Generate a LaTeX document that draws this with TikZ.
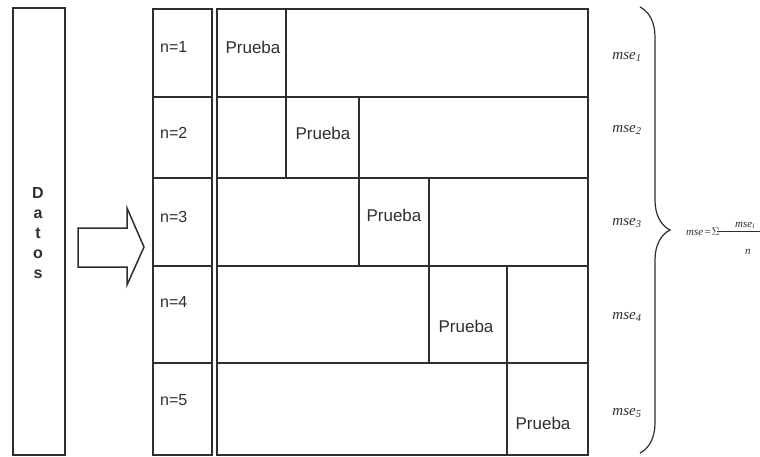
\documentclass[tikz,border=0pt]{standalone}
\usepackage{fontspec}
\setmainfont{Liberation Sans}
\newfontfamily\tms{Liberation Serif}
\usetikzlibrary{decorations.pathreplacing}
\definecolor{ink}{HTML}{2E2E2E}
\tikzset{
  box/.style={draw=ink, line width=1.5pt, inner sep=0pt, outer sep=0pt, anchor=north west},
  lbl/.style={text=ink, inner sep=0pt, font=\fontsize{16}{18}\selectfont},
  prb/.style={text=ink, inner sep=0pt, font=\fontsize{17}{19}\selectfont},
  mse/.style={text=ink, inner sep=0pt, font=\tms\itshape\fontsize{15}{17}\selectfont},
  fml/.style={text=ink, inner sep=0pt, anchor=base west, font=\tms\itshape\fontsize{11}{13}\selectfont},
}
\begin{document}
\begin{tikzpicture}[x=1pt,y=-1pt]
\useasboundingbox (0,0) rectangle (760,457);
% Datos column
\node[box, minimum width=52pt, minimum height=447pt] (datos) at (13,8) {};
\node[text=ink, inner sep=0pt, align=center, font=\bfseries\fontsize{16}{20}\selectfont] (datostxt) at (38,233) {D\\a\\t\\o\\s};
% arrow
\draw[draw=ink, line width=1.5pt, line join=miter] (78,228) -- (127,228) -- (127,208) -- (144,247) -- (127,285) -- (127,267) -- (78,267) -- cycle;
% n column
\foreach \i/\t/\b in {1/9/97, 2/97/178, 3/178/266, 4/266/363, 5/363/455}{
  \pgfmathsetmacro{\h}{\b-\t}
  \node[box, minimum width=59pt, minimum height=\h pt] (n\i) at (153,\t) {};
}
\node[lbl, anchor=west] (n1t) at (160,47) {n=1};
\node[lbl, anchor=west] (n2t) at (160,133) {n=2};
\node[lbl, anchor=west] (n3t) at (160,217) {n=3};
\node[lbl, anchor=west] (n4t) at (160,302) {n=4};
\node[lbl, anchor=west] (n5t) at (160,400) {n=5};
% grid rows
% row 1
\node[box, minimum width=69pt, minimum height=88pt] (r1a) at (217,9) {};
\node[box, minimum width=302pt, minimum height=88pt] (r1b) at (286,9) {};
% row 2
\node[box, minimum width=69pt, minimum height=81pt] (r2a) at (217,97) {};
\node[box, minimum width=73pt, minimum height=81pt] (r2b) at (286,97) {};
\node[box, minimum width=229pt, minimum height=81pt] (r2c) at (359,97) {};
% row 3
\node[box, minimum width=142pt, minimum height=88pt] (r3a) at (217,178) {};
\node[box, minimum width=70pt, minimum height=88pt] (r3b) at (359,178) {};
\node[box, minimum width=159pt, minimum height=88pt] (r3c) at (429,178) {};
% row 4
\node[box, minimum width=212pt, minimum height=97pt] (r4a) at (217,266) {};
\node[box, minimum width=78pt, minimum height=97pt] (r4b) at (429,266) {};
\node[box, minimum width=81pt, minimum height=97pt] (r4c) at (507,266) {};
% row 5
\node[box, minimum width=290pt, minimum height=92pt] (r5a) at (217,363) {};
\node[box, minimum width=81pt, minimum height=92pt] (r5b) at (507,363) {};
% Prueba labels
\node[prb] (p1) at (253,47) {Prueba};
\node[prb] (p2) at (323,133) {Prueba};
\node[prb] (p3) at (394,215) {Prueba};
\node[prb] (p4) at (466,326) {Prueba};
\node[prb] (p5) at (543,423) {Prueba};
% mse labels
\node[mse] (m1) at (627,57) {mse\textsubscript{1}};
\node[mse] (m2) at (627,130) {mse\textsubscript{2}};
\node[mse] (m3) at (627,223) {mse\textsubscript{3}};
\node[mse] (m4) at (627,317) {mse\textsubscript{4}};
\node[mse] (m5) at (627,413) {mse\textsubscript{5}};
% brace
\coordinate (bt) at (640,7);
\coordinate (bb) at (640,453);
\draw[draw=ink, line width=1.2pt, decorate, decoration={brace, amplitude=30pt}] (bt) -- (bb);
% formula
\node[fml] (form) at (686,235) {mse\kern0.5pt=\kern0.5pt\(\Sigma\)};
\coordinate (fl) at (717,231);
\coordinate (fr) at (790,231);
\draw[draw=ink, line width=0.8pt] (fl) -- (fr);
\node[fml] (fnum) at (735,227) {mse\textsubscript{i}};
\node[fml] (fden) at (745,254) {n};
\end{tikzpicture}
\end{document}
